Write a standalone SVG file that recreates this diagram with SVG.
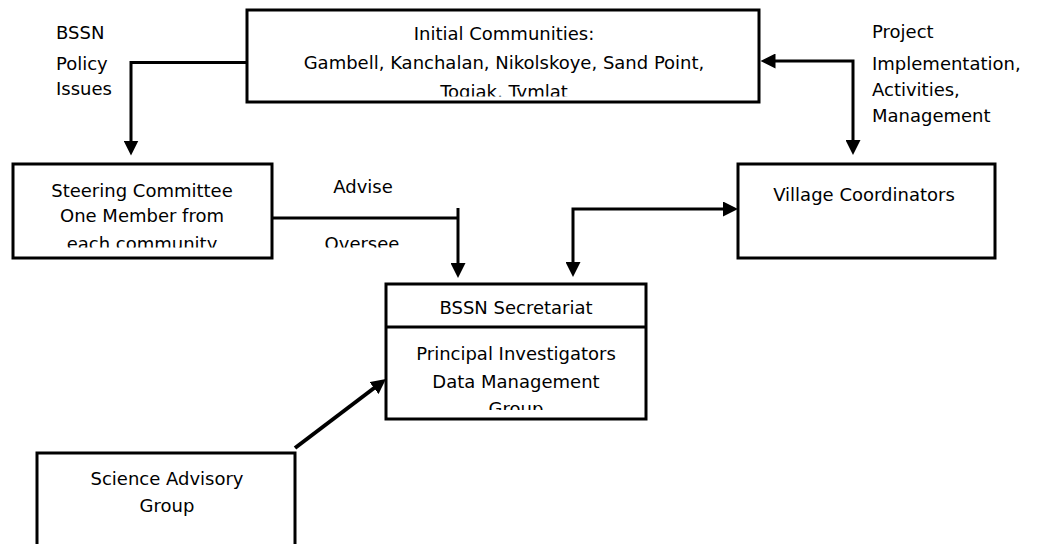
<svg xmlns="http://www.w3.org/2000/svg" width="1042" height="544" viewBox="0 0 1042 544">
  <style>
    .box { fill: #ffffff; stroke: #000000; stroke-width: 3; }
    .conn { fill: none; stroke: #000000; stroke-width: 3; }
    .diag { fill: none; stroke: #000000; stroke-width: 4; }
    text { font-family: "DejaVu Sans", "Liberation Sans", sans-serif; font-size: 18px; fill: #000000; }
    .c { text-anchor: middle; }
  </style>
  <defs>
    <marker id="ah" viewBox="0 0 15 15" markerWidth="15" markerHeight="15" refX="1" refY="7.5" orient="auto-start-reverse" markerUnits="userSpaceOnUse">
      <path d="M0,0 L15,7.5 L0,15 z" fill="#000000"/>
    </marker>
    <clipPath id="clipTop"><rect x="248" y="11" width="510" height="85.5"/></clipPath>
    <clipPath id="clipSteer"><rect x="0" y="170" width="440" height="77.5"/></clipPath>
    <clipPath id="clipBssn"><rect x="387" y="328" width="258" height="82"/></clipPath>
  </defs>
  <rect x="0" y="0" width="1042" height="544" fill="#ffffff"/>

  <g id="connectors">
    <path class="conn" d="M247,62.5 H131 V141.5" marker-end="url(#ah)"/>
    <path class="conn" d="M853,141 V61 H774.5" marker-start="url(#ah)" marker-end="url(#ah)"/>
    <path class="conn" d="M272,218 H458"/>
    <path class="conn" d="M458,208 V264" marker-end="url(#ah)"/>
    <path class="conn" d="M724,209 H573 V263" marker-start="url(#ah)" marker-end="url(#ah)"/>
    <path class="diag" d="M295,448 L374.8,387.5" marker-end="url(#ah)"/>
  </g>

  <g id="label-policy">
    <text x="56" y="39">BSSN</text>
    <text x="56" y="70">Policy</text>
    <text x="56" y="95">Issues</text>
  </g>
  <g id="label-project">
    <text x="872" y="38">Project</text>
    <text x="872" y="70">Implementation,</text>
    <text x="872" y="96">Activities,</text>
    <text x="872" y="122">Management</text>
  </g>
  <g id="label-advise">
    <text class="c" x="363" y="193">Advise</text>
    <text class="c" x="362" y="249.5" clip-path="url(#clipSteer)">Oversee</text>
  </g>

  <g id="node-communities">
    <rect class="box" x="247" y="10" width="512" height="92"/>
    <g clip-path="url(#clipTop)">
      <text class="c" x="504" y="40">Initial Communities:</text>
      <text class="c" x="504" y="68.5">Gambell, Kanchalan, Nikolskoye, Sand Point,</text>
      <text class="c" x="504" y="97.5">Togiak, Tymlat</text>
    </g>
  </g>

  <g id="node-steering">
    <rect class="box" x="13" y="164" width="259" height="94"/>
    <g clip-path="url(#clipSteer)">
      <text class="c" x="142" y="197">Steering Committee</text>
      <text class="c" x="142" y="222">One Member from</text>
      <text class="c" x="142" y="249.5">each community</text>
    </g>
  </g>

  <g id="node-village">
    <rect class="box" x="738" y="164" width="257" height="94"/>
    <text class="c" x="864" y="200.5">Village Coordinators</text>
  </g>

  <g id="node-secretariat">
    <rect class="box" x="386" y="284" width="260" height="135"/>
    <line class="conn" x1="386" y1="327" x2="646" y2="327"/>
    <text class="c" x="516" y="313.5">BSSN Secretariat</text>
    <g clip-path="url(#clipBssn)">
      <text class="c" x="516" y="360">Principal Investigators</text>
      <text class="c" x="516" y="388">Data Management</text>
      <text class="c" x="516" y="415">Group</text>
    </g>
  </g>

  <g id="node-science">
    <rect class="box" x="37" y="453" width="258" height="110"/>
    <text class="c" x="167" y="485">Science Advisory</text>
    <text class="c" x="167" y="512">Group</text>
  </g>
</svg>
